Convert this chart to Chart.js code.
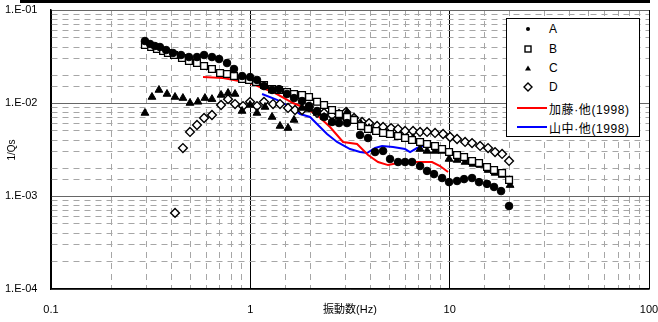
<!DOCTYPE html>
<html>
<head>
<meta charset="utf-8">
<script src="https://cdn.jsdelivr.net/npm/chart.js@4"></script>
<style>
  body { margin: 0; background: #fff; }
  #wrap { position: relative; width: 658px; height: 322px; font-family: "Liberation Sans", Arial, "Noto Sans CJK JP", sans-serif; }
  #topbar { position: absolute; left: 20px; top: 0; width: 630px; height: 3px; background: #000; }
  #legend { position: absolute; left: 506px; top: 18px; width: 134px; height: 119px; background: #fff; border: 1px solid #000; box-sizing: border-box; font-size: 12px; }
  .row { position: absolute; left: 0; height: 16px; display: flex; align-items: center; white-space: nowrap; }
  .sym { width: 42px; display: flex; justify-content: center; }
  .line { width: 30px; height: 2px; margin: 0 2px 0 10px; }
  .wide { letter-spacing: 0.6px; }
</style>
</head>
<body>
<div id="wrap">
  <canvas id="chart" width="658" height="322"></canvas>
  <div id="topbar"></div>
  <div id="legend">
    <div class="row" style="top:2px"><div class="sym"><svg width="8" height="8"><circle cx="4" cy="4" r="2" fill="#000"/></svg></div><span>A</span></div>
    <div class="row" style="top:22px"><div class="sym"><svg width="8" height="8"><rect x="1" y="1" width="6" height="6" fill="#fff" stroke="#000" stroke-width="1.4"/></svg></div><span>B</span></div>
    <div class="row" style="top:41px"><div class="sym"><svg width="8" height="8"><polygon points="4,1.5 7,6.5 1,6.5" fill="#000"/></svg></div><span>C</span></div>
    <div class="row" style="top:60px"><div class="sym"><svg width="10" height="10"><polygon points="5,1 9,5 5,9 1,5" fill="#fff" stroke="#000" stroke-width="1.4"/></svg></div><span>D</span></div>
    <div class="row" style="top:81px"><div class="line" style="background:#ff0000"></div><span class="wide">加藤·他(1998)</span></div>
    <div class="row" style="top:100px"><div class="line" style="background:#0000ff"></div><span class="wide">山中·他(1998)</span></div>
  </div>
</div>
<script>
// 振動数 (Hz) と 1/Qs の読み取り値
const freqA = [0.296, 0.314, 0.332, 0.352, 0.378, 0.409, 0.449, 0.492, 0.540, 0.586, 0.642, 0.697, 0.764, 0.828, 0.909, 0.997,
  1.08, 1.171, 1.285, 1.393, 1.528, 1.657, 1.817, 1.97, 2.161, 2.343, 2.57, 2.786, 3.056, 3.551, 3.896, 4.224, 4.633, 5.022,
  5.51, 5.973, 6.476, 7.103, 7.7, 8.347, 9.161, 9.931, 10.89, 11.81, 12.95, 14.04, 15.4, 16.7, 18.11, 19.86];
const qsA = [0.0464, 0.0431, 0.0410, 0.0400, 0.0371, 0.0345, 0.0328, 0.0312, 0.0312, 0.0328, 0.0312, 0.0297, 0.0269, 0.0232, 0.0195, 0.0190,
  0.0177, 0.0152, 0.0138, 0.0141, 0.0125, 0.0113, 0.0105, 0.00928, 0.0082, 0.00707, 0.00625, 0.00609, 0.00609, 0.00453, 0.0042, 0.00297, 0.00305, 0.0025,
  0.00232, 0.00232, 0.00232, 0.0021, 0.00186, 0.00172, 0.00156, 0.00141, 0.00145, 0.00152, 0.00156, 0.00141, 0.00135, 0.00125, 0.00113, 0.00078];

const freqB = [0.296, 0.318, 0.340, 0.365, 0.386, 0.414, 0.454, 0.492, 0.540, 0.586, 0.642, 0.705, 0.764, 0.828, 0.909, 0.985,
  1.068, 1.171, 1.285, 1.393, 1.528, 1.657, 1.817, 1.97, 2.161, 2.343, 2.57, 2.786, 3.056, 3.314, 3.593, 3.896, 4.273, 4.633,
  5.022, 5.51, 5.973, 6.476, 7.103, 7.7, 8.444, 9.161, 9.931, 10.89, 11.81, 12.95, 14.04, 15.4, 16.7, 18.32, 19.86];
const qsB = [0.0420, 0.0400, 0.0381, 0.0362, 0.0345, 0.0328, 0.0305, 0.0283, 0.0269, 0.0250, 0.0232, 0.0210, 0.0205, 0.0195, 0.0181, 0.0177,
  0.0168, 0.0156, 0.0141, 0.0138, 0.0131, 0.0125, 0.0122, 0.0116, 0.0103, 0.00952, 0.00841, 0.00762, 0.00707, 0.00657, 0.00566, 0.00525, 0.005, 0.00476,
  0.00464, 0.00442, 0.0042, 0.004, 0.00381, 0.00362, 0.00345, 0.0032, 0.00297, 0.00276, 0.00263, 0.00238, 0.00226, 0.00205, 0.0019, 0.00177, 0.00149];

const freqC = [0.296, 0.321, 0.348, 0.382, 0.419, 0.459, 0.498, 0.546, 0.592, 0.642, 0.713, 0.773, 0.838, 0.909, 0.997,
  1.08, 1.185, 1.285, 1.409, 1.546, 1.657, 1.817, 1.993, 2.161, 2.343, 2.57, 2.786, 3.056, 3.314, 3.593, 3.942, 4.323, 4.633,
  5.022, 5.51, 6.043, 6.551, 7.103, 7.7, 8.444, 9.161, 9.931, 10.89, 11.95, 13.1, 14.21, 15.58, 16.89, 18.32, 20.09];
const qsC = [0.00781, 0.0116, 0.0138, 0.0125, 0.0116, 0.0113, 0.0100, 0.0103, 0.0113, 0.0110, 0.0122, 0.0128, 0.0125, 0.0082, 0.00952,
  0.00781, 0.00906, 0.00707, 0.00566, 0.00538, 0.00657, 0.00884, 0.00862, 0.00781, 0.00707, 0.00625, 0.00707, 0.008, 0.00657, 0.00594, 0.00538, 0.00488, 0.00464,
  0.00453, 0.00431, 0.0042, 0.0042, 0.0032, 0.00305, 0.00305, 0.00305, 0.0025, 0.00244, 0.00232, 0.00221, 0.00215, 0.0019, 0.00177, 0.00168, 0.00131];

const freqD = [0.419, 0.459, 0.498, 0.540, 0.586, 0.642, 0.713, 0.773, 0.838, 0.919, 0.997,
  1.08, 1.171, 1.3, 1.409, 1.546, 1.676, 1.817, 1.97, 2.161, 2.343, 2.57, 2.786, 3.021, 3.314, 3.635, 3.942, 4.323, 4.633,
  5.082, 5.51, 5.973, 6.551, 7.103, 7.7, 8.444, 9.267, 10.05, 10.89, 11.95, 12.95, 14.21, 15.58, 16.89, 18.32, 19.86];
const qsD = [0.000657, 0.00328, 0.00488, 0.0058, 0.0069, 0.00743, 0.00952, 0.0110, 0.00975, 0.00928, 0.0103,
  0.00928, 0.0103, 0.00975, 0.00975, 0.00884, 0.00841, 0.00841, 0.00906, 0.00781, 0.00781, 0.00743, 0.00762, 0.008, 0.0069, 0.00625, 0.00609, 0.00566, 0.00552,
  0.00538, 0.00525, 0.005, 0.005, 0.00488, 0.00488, 0.00476, 0.00464, 0.00431, 0.0041, 0.00381, 0.00371, 0.00345, 0.00328, 0.00297, 0.00283, 0.00238];

// 加藤・他(1998)
const freqKato = [0.579, 0.730, 0.997, 1.33, 1.637, 1.881, 2.161, 2.511, 2.918, 3.431, 3.896, 4.373, 4.908, 5.51, 6.184, 7.103, 8.157, 8.951, 9.817];
const qsKato = [0.0190, 0.0186, 0.0164, 0.0128, 0.0100, 0.00884, 0.00743, 0.00552, 0.00381, 0.00362, 0.00276, 0.00232, 0.00215, 0.00226, 0.00232, 0.00232, 0.00232, 0.0021, 0.00181];

// 山中・他(1998)
const freqYamanaka = [1.145, 1.361, 1.582, 1.776, 1.993, 2.161, 2.426, 2.723, 3.164, 3.551, 3.851, 4.224, 4.58, 5.2, 5.973, 6.329, 6.861, 7.352, 8.951];
const qsYamanaka = [0.0125, 0.0108, 0.00906, 0.00762, 0.00707, 0.00594, 0.00464, 0.00381, 0.0032, 0.00297, 0.0029, 0.00328, 0.00345, 0.00336, 0.0032, 0.00297, 0.00328, 0.00345, 0.00345];

const FONT = '"Liberation Sans", Arial, "Noto Sans CJK JP", sans-serif';

function pts(xs, ys) {
  return xs.map((x, i) => ({ x: x, y: ys[i] }));
}

function isDecade(v) {
  const l = Math.log10(v);
  return Math.abs(l - Math.round(l)) < 1e-6;
}

function markers(label, xs, ys, style, radius, fill, bw) {
  return {
    label: label,
    data: pts(xs, ys),
    showLine: false,
    pointStyle: style,
    pointRadius: radius,
    pointBackgroundColor: fill,
    pointBorderColor: '#000',
    pointBorderWidth: bw
  };
}

function curve(label, xs, ys, color) {
  return {
    label: label,
    data: pts(xs, ys),
    showLine: true,
    borderColor: color,
    borderWidth: 2,
    pointRadius: 0,
    tension: 0
  };
}

// 縦軸タイトル
const yTitle = {
  id: 'yTitle',
  afterDraw(chart) {
    const c = chart.ctx;
    c.save();
    c.translate(12, 150);
    c.rotate(-Math.PI / 2);
    c.font = '10px ' + FONT;
    c.fillStyle = '#000';
    c.textAlign = 'center';
    c.textBaseline = 'middle';
    c.fillText('1/Qs', 0, 0);
    c.restore();
  }
};

const ctx = document.getElementById('chart').getContext('2d');
new Chart(ctx, {
  type: 'scatter',
  data: {
    datasets: [
      markers('A', freqA, qsA, 'circle', 3.8, '#000', 1),
      markers('B', freqB, qsB, 'rect', 4.8, '#fff', 1.3),
      markers('C', freqC, qsC, 'triangle', 4.5, '#000', 1),
      markers('D', freqD, qsD, 'rectRot', 4.4, '#fff', 1.4),
      curve('加藤·他(1998)', freqKato, qsKato, '#ff0000'),
      curve('山中·他(1998)', freqYamanaka, qsYamanaka, '#0000ff')
    ]
  },
  options: {
    responsive: false,
    animation: false,
    devicePixelRatio: 1,
    layout: { padding: { left: 5, top: 10, right: 9, bottom: 0 } },
    plugins: {
      legend: { display: false },
      tooltip: { enabled: false }
    },
    scales: {
      x: {
        type: 'logarithmic',
        min: 0.1,
        max: 100,
        afterFit: s => { s.height = 33; s.paddingLeft = 0; s.paddingRight = 0; },
        grid: {
          drawTicks: false,
          color: c => (c.tick && isDecade(c.tick.value)) ? '#000' : '#a6a6a6',
          lineWidth: 1
        },
        border: {
          display: true,
          color: '#000',
          width: 1.5,
          dash: c => (c.tick && !isDecade(c.tick.value)) ? [6, 5] : []
        },
        ticks: {
          autoSkip: false,
          maxRotation: 0,
          padding: 14,
          color: '#000',
          font: { size: 11, family: FONT },
          callback: v => isDecade(v) ? String(v) : ''
        },
        title: {
          display: true,
          text: '振動数(Hz)',
          color: '#000',
          font: { size: 11, family: FONT },
          padding: { top: 0, bottom: 5 }
        }
      },
      y: {
        type: 'logarithmic',
        min: 0.0001,
        max: 0.1,
        afterFit: s => { s.width = 46; s.paddingTop = 0; s.paddingBottom = 0; },
        grid: {
          drawTicks: false,
          color: c => (c.tick && isDecade(c.tick.value)) ? '#666' : '#a6a6a6',
          lineWidth: 1
        },
        border: {
          display: true,
          color: '#000',
          width: 1.5,
          dash: c => (c.tick && !isDecade(c.tick.value)) ? [6, 5] : []
        },
        ticks: {
          autoSkip: false,
          crossAlign: 'far',
          color: '#000',
          font: { size: 11, family: FONT },
          callback: v => {
            if (!isDecade(v)) return '';
            const e = Math.round(Math.log10(v));
            return '1.E' + (e < 0 ? '-' : '+') + String(Math.abs(e)).padStart(2, '0');
          }
        }
      }
    }
  },
  plugins: [yTitle]
});
</script>
</body>
</html>
